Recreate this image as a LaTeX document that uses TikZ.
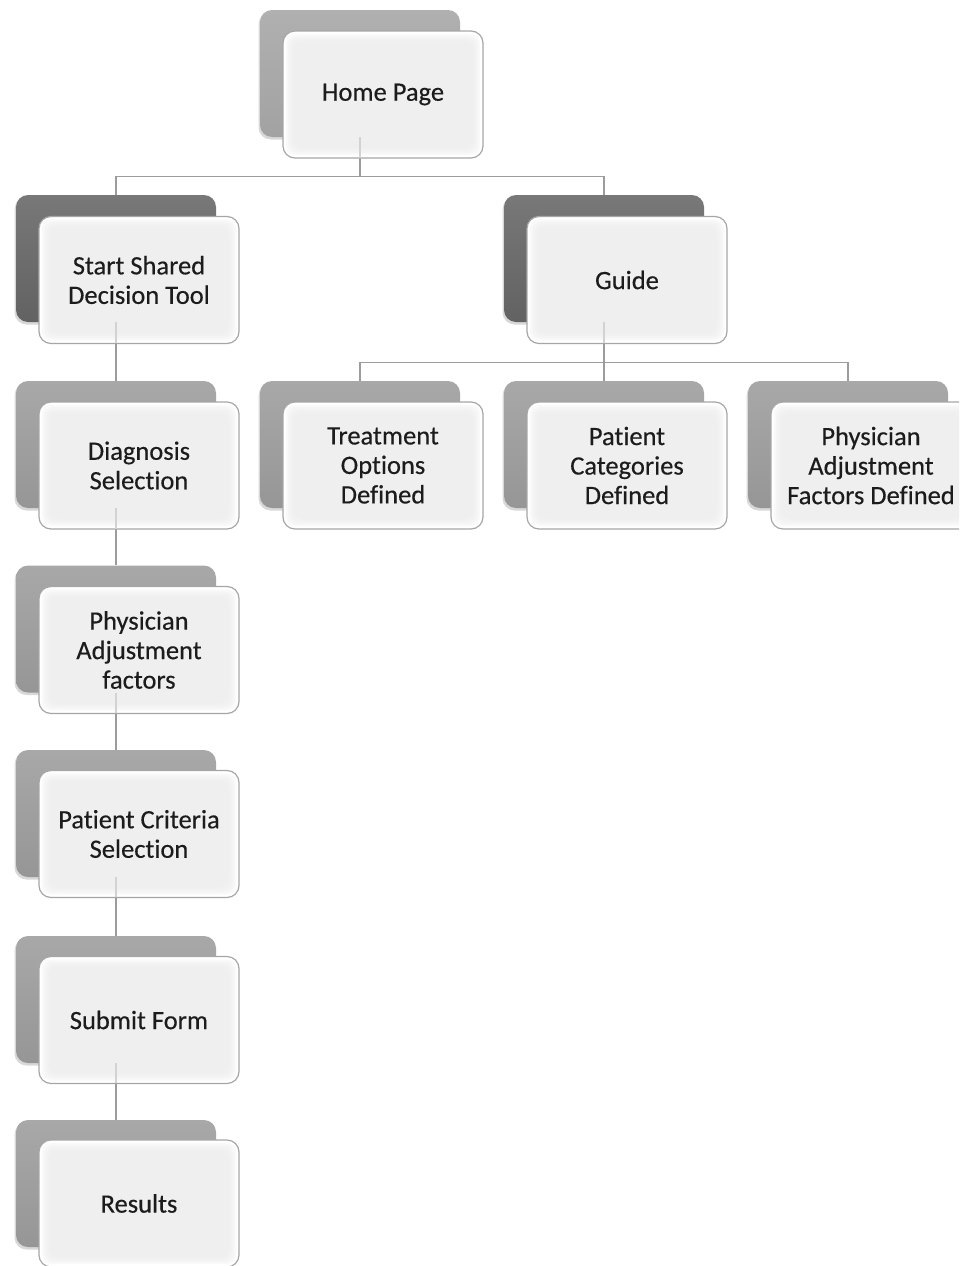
\documentclass[tikz,border=0pt]{standalone}
\usepackage{fontspec}
\setmainfont{Carlito}[Ligatures=NoCommon]
\newfontfamily\boxfont{Carlito}[Ligatures=NoCommon, FakeBold=0.35]
\usetikzlibrary{shadows}
\definecolor{linegrey}{HTML}{9C9C9C}
\definecolor{faintgrey}{HTML}{D2D2D2}
\definecolor{frameGrey}{HTML}{A6A6A6}
\definecolor{frontfill}{HTML}{EDEDED}
\definecolor{txt}{HTML}{1C1C1C}
\definecolor{homeTop}{HTML}{B0B0B0}
\definecolor{homeBot}{HTML}{A2A2A2}
\definecolor{darkTop}{HTML}{787878}
\definecolor{darkBot}{HTML}{626262}
\definecolor{midTop}{HTML}{A8A8A8}
\definecolor{midBot}{HTML}{969696}
\tikzset{
  backbox/.style={rounded corners=12pt, minimum width=200pt, minimum height=127pt,
    inner sep=0pt, draw=none,
    drop shadow={shadow xshift=-1.5pt, shadow yshift=-2.5pt, opacity=0.3}},
  homeback/.style={backbox, top color=homeTop, bottom color=homeBot},
  darkback/.style={backbox, top color=darkTop, bottom color=darkBot},
  midback/.style={backbox, top color=midTop, bottom color=midBot},
  frontbox/.style={rounded corners=12pt, minimum width=200pt, minimum height=127pt,
    inner sep=2pt, draw=frameGrey, line width=1.2pt, fill=white,
    path picture={
      \foreach \d in {3,5,7,9,11}
        \fill[frontfill, opacity=0.32, rounded corners=9pt]
          ([xshift=\d pt, yshift=-\d pt]path picture bounding box.north west)
          rectangle ([xshift=-\d pt, yshift=\d pt]path picture bounding box.south east);
    },
    font=\boxfont\fontsize{26.5}{29.5}\selectfont, align=center, text=txt},
  conn/.style={draw=linegrey, line width=1.3pt},
  faint/.style={draw=faintgrey, line width=1.3pt},
}
\begin{document}
\begin{tikzpicture}[x=1pt,y=-1pt]
\clip (0,0) rectangle (959,1266);
\useasboundingbox (0,0) rectangle (959,1266);
\fill[white] (0,0) rectangle (959,1266);
% back boxes
\node[homeback] (homeb) at (360,73.5) {};
\node[darkback] (startb) at (116,258.5) {};
\node[darkback] (guideb) at (604,258.5) {};
\node[midback] (treatb) at (360,444.5) {};
\node[midback] (patcatb) at (604,444.5) {};
\node[midback] (physdefb) at (848,444.5) {};
\node[midback] (diagb) at (116,444.5) {};
\node[midback] (physb) at (116,629) {};
\node[midback] (critb) at (116,813.5) {};
\node[midback] (submitb) at (116,999.5) {};
\node[midback] (resb) at (116,1183.5) {};
% connectors
\draw[conn] (homeb.south) |- ([yshift=18pt]startb.north) -- (startb.north);
\draw[conn] (homeb.south) |- ([yshift=18pt]guideb.north) -- (guideb.north);
\draw[conn] (guideb.south) |- ([yshift=18pt]treatb.north) -- (treatb.north);
\draw[conn] (guideb.south) -- (patcatb.north);
\draw[conn] (guideb.south) |- ([yshift=18pt]physdefb.north) -- (physdefb.north);
\draw[conn] (startb.south) -- (diagb.north);
\draw[conn] (diagb.south) -- (physb.north);
\draw[conn] (physb.south) -- (critb.north);
\draw[conn] (critb.south) -- (submitb.north);
\draw[conn] (submitb.south) -- (resb.north);
% front boxes
\node[frontbox] (home) at (383,94.5) {Home Page};
\node[frontbox] (start) at (139,280) {Start Shared\\Decision Tool};
\node[frontbox] (guide) at (627,280) {Guide};
\node[frontbox] (treat) at (383,465.5) {Treatment\\Options\\Defined};
\node[frontbox] (patcat) at (627,465.5) {Patient\\Categories\\Defined};
\node[frontbox] (physdef) at (871,465.5) {Physician\\Adjustment\\Factors Defined};
\node[frontbox] (diag) at (139,465.5) {Diagnosis\\Selection};
\node[frontbox] (phys) at (139,650) {Physician\\Adjustment\\factors};
\node[frontbox] (crit) at (139,834) {Patient Criteria\\Selection};
\node[frontbox] (submit) at (139,1020) {Submit Form};
\node[frontbox] (res) at (139,1203.5) {Results};
% faint traces of connectors seen through front boxes
\draw[faint] (homeb.south) -- ([yshift=1pt]homeb.south |- home.south);
\draw[faint] (startb.south) -- ([yshift=1pt]startb.south |- start.south);
\draw[faint] (guideb.south) -- ([yshift=1pt]guideb.south |- guide.south);
\draw[faint] (diagb.south) -- ([yshift=1pt]diagb.south |- diag.south);
\draw[faint] (physb.south) -- ([yshift=1pt]physb.south |- phys.south);
\draw[faint] (critb.south) -- ([yshift=1pt]critb.south |- crit.south);
\draw[faint] (submitb.south) -- ([yshift=1pt]submitb.south |- submit.south);
\end{tikzpicture}
\end{document}
